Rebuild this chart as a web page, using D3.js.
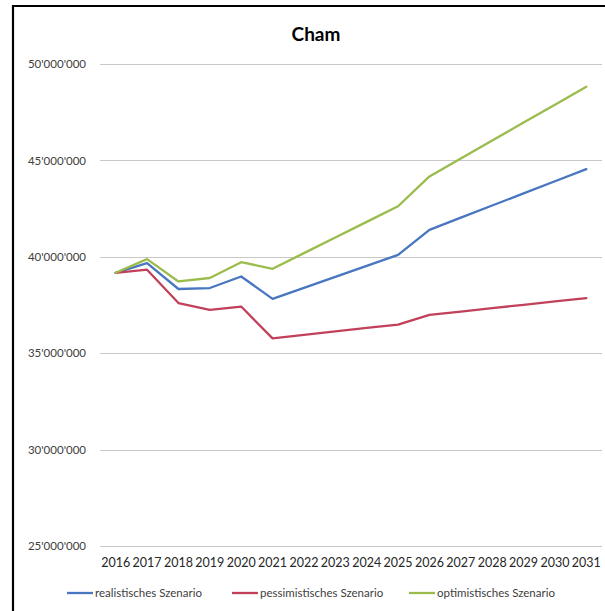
<!DOCTYPE html>
<html>
<head>
<meta charset="utf-8">
<script src="https://cdn.jsdelivr.net/npm/d3@7/dist/d3.min.js"></script>
<style>
  html, body { margin: 0; padding: 0; background: #fff; }
  svg { display: block; }
  text { font-family: Lato, "Open Sans", sans-serif; fill: #262626; }
</style>
</head>
<body>
<svg id="chart" width="605" height="611"></svg>
<script>
// Kosten-Szenarien Cham, 2016–2031
const years = [2016, 2017, 2018, 2019, 2020, 2021, 2022, 2023, 2024, 2025, 2026, 2027, 2028, 2029, 2030, 2031];
const realistisch = [39.17, 39.67, 38.33, 38.38, 38.98, 37.82, 38.39, 38.96, 39.53, 40.10, 41.40, 42.03, 42.66, 43.29, 43.92, 44.55].map(v => v * 1e6);
const pessimistisch = [39.17, 39.33, 37.60, 37.25, 37.42, 35.77, 35.95, 36.13, 36.31, 36.48, 36.99, 37.16, 37.34, 37.51, 37.69, 37.86].map(v => v * 1e6);
const optimistisch = [39.17, 39.88, 38.72, 38.90, 39.72, 39.38, 40.19, 41.00, 41.81, 42.62, 44.17, 45.10, 46.03, 46.96, 47.89, 48.82].map(v => v * 1e6);
const yTicks = [25e6, 30e6, 35e6, 40e6, 45e6, 50e6];
const seriesNames = ["realistisches Szenario", "pessimistisches Szenario", "optimistisches Szenario"];
const seriesColors = ["#4876c0", "#c2415a", "#9bbb4c"];

const svg = d3.select("#chart");

// Rahmen links und oben
svg.append("line").attr("x1", 13).attr("x2", 13).attr("y1", 5).attr("y2", 611)
  .attr("stroke", "#000").attr("stroke-width", 2.2);
svg.append("line").attr("x1", 12).attr("x2", 605).attr("y1", 6).attr("y2", 6)
  .attr("stroke", "#000").attr("stroke-width", 2.2);

const plot = { left: 100, right: 602, top: 64, bottom: 546 };

const x = d3.scaleBand().domain(years).range([plot.left, plot.right]);
const y = d3.scaleLinear().domain([25e6, 50e6]).range([plot.bottom, plot.top]);

const fmt = v => d3.format(",")(v).replace(/,/g, "'");

// Gitterlinien
svg.append("g").selectAll("line").data(yTicks).join("line")
  .attr("x1", plot.left).attr("x2", plot.right)
  .attr("y1", d => Math.round(y(d)) + 0.5).attr("y2", d => Math.round(y(d)) + 0.5)
  .attr("stroke", "#c8c8c8").attr("stroke-width", 1);

// Y-Achse
const yAxis = svg.append("g").attr("transform", `translate(${plot.left},0)`)
  .call(d3.axisLeft(y).tickValues(yTicks).tickFormat(fmt).tickSize(0).tickPadding(14));
yAxis.select(".domain").remove();
yAxis.selectAll("text").style("font-size", "11.5px").style("fill", "#404040");

// X-Achse
const xAxis = svg.append("g").attr("transform", `translate(0,${plot.bottom})`)
  .call(d3.axisBottom(x).tickSize(0).tickPadding(12));
xAxis.select(".domain").remove();
xAxis.selectAll("text").style("font-size", "12.5px").style("fill", "#262626");

// Titel
svg.append("text").attr("x", 316).attr("y", 41).attr("text-anchor", "middle")
  .style("font-size", "19px").style("font-weight", "bold").style("fill", "#000")
  .text("Cham");

// Linien
const line = d3.line().x((d, i) => x(years[i]) + x.bandwidth() / 2).y(d => y(d));
[realistisch, pessimistisch, optimistisch].forEach((s, i) => {
  svg.append("path").datum(s).attr("d", line)
    .attr("fill", "none").attr("stroke", seriesColors[i])
    .attr("stroke-width", 2.3).attr("stroke-linejoin", "round").attr("stroke-linecap", "round");
});

// Legende
const legendX = [67, 232, 409];
const legend = svg.append("g").attr("transform", "translate(0,593)");
seriesNames.forEach((name, i) => {
  const g = legend.append("g").attr("transform", `translate(${legendX[i]},0)`);
  g.append("line").attr("x1", 0).attr("x2", 26).attr("y1", 0).attr("y2", 0)
    .attr("stroke", seriesColors[i]).attr("stroke-width", 2.3);
  g.append("text").attr("x", 28).attr("y", 4).style("font-size", "11.5px").style("fill", "#404040").text(name);
});
</script>
</body>
</html>
